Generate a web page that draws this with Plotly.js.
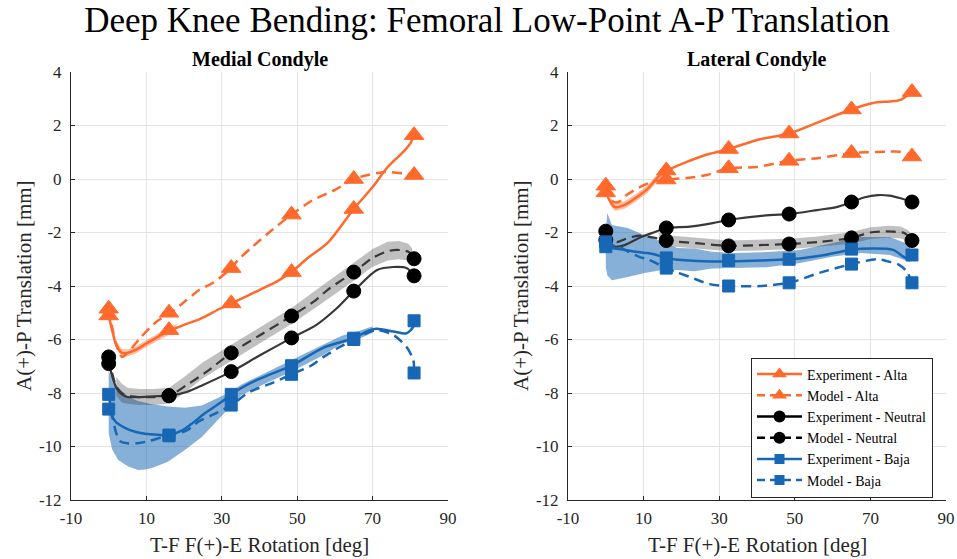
<!DOCTYPE html>
<html>
<head>
<meta charset="utf-8">
<script src="https://cdn.plot.ly/plotly-3.0.1.min.js"></script>
<style>html,body{margin:0;padding:0;background:#fff;}#chart{width:957px;height:559px;}</style>
</head>
<body>
<div id="chart"></div>
<script>
// ---------- Data ----------
const xTickVals = [-10, 10, 30, 50, 70, 90];
const xTickText = ['-10', '10', '30', '50', '70', '90'];
const yTickVals = [-12, -10, -8, -6, -4, -2, 0, 2, 4];
const yTickText = ['-12', '-10', '-8', '-6', '-4', '-2', '0', '2', '4'];

const seriesNames = ['Experiment - Alta', 'Model - Alta', 'Experiment - Neutral', 'Model - Neutral', 'Experiment - Baja', 'Model - Baja'];
const markerX = [0, 16, 32.5, 48.5, 65, 81];

// ----- Medial condyle -----
const medExpAltaPts = [-5.1, -5.65, -4.65, -3.48, -1.12, 1.64];
const medModAltaPts = [-4.85, -5.0, -3.33, -1.33, 0.0, 0.15];
const medExpNeuPts = [-6.9, -8.1, -7.2, -5.94, -4.19, -3.62];
const medModNeuPts = [-6.65, -8.1, -6.5, -5.12, -3.48, -2.98];
const medExpBajaPts = [-8.6, -9.57, -8.05, -6.98, -5.95, -5.3];
const medModBajaPts = [-8.05, -9.6, -8.45, -7.3, -6.0, -7.25];

const medExpAltaX = [0, 1, 2, 3.5, 5, 7, 10, 13, 16, 20, 24.3, 29.5, 32.5, 40, 45, 48.5, 52.8, 58, 65, 70, 74, 78.6, 80, 81];
const medExpAltaY = [-5.1, -5.7, -6.2, -6.5, -6.5, -6.4, -6.15, -5.9, -5.68, -5.45, -5.23, -4.85, -4.65, -4.15, -3.8, -3.48, -2.95, -2.4, -1.12, -0.3, 0.45, 1.08, 1.33, 1.64];
const medModAltaX = [0, 1, 2, 3.5, 5, 8, 11, 13, 16, 20, 24, 28, 32.5, 34.3, 38, 43.4, 48.5, 54, 60, 65, 68.8, 73.3, 78.6, 81];
const medModAltaY = [-4.85, -5.6, -6.2, -6.65, -6.5, -6.0, -5.55, -5.3, -5.05, -4.6, -4.15, -3.85, -3.33, -3.03, -2.55, -1.9, -1.33, -0.8, -0.41, 0.0, 0.15, 0.26, 0.2, 0.15];
const medExpNeuX = [0, 1, 2, 3.5, 5, 8, 12, 16, 20.7, 25, 32.5, 40, 48.5, 55, 60.5, 65, 71.2, 75.5, 79, 81];
const medExpNeuY = [-6.9, -7.4, -7.8, -8.05, -8.15, -8.15, -8.12, -8.1, -7.96, -7.7, -7.2, -6.6, -5.94, -5.46, -4.83, -4.19, -3.4, -3.29, -3.33, -3.62];
const medModNeuX = [0, 1, 2, 3.5, 5, 8, 12, 16, 20.7, 26, 32.5, 40, 48.5, 55, 58, 65, 70, 74, 76.5, 79.5, 81];
const medModNeuY = [-6.65, -7.3, -7.75, -8.0, -8.1, -8.15, -8.15, -8.1, -7.7, -7.2, -6.5, -5.85, -5.12, -4.52, -4.15, -3.48, -2.95, -2.7, -2.65, -2.72, -2.98];
const medExpBajaX = [0, 1, 2, 4.3, 7, 9.6, 13, 16, 19.5, 22, 25.6, 30, 32.5, 37.5, 42, 48.5, 57, 65, 68.5, 71, 75.5, 79, 80.8, 81];
const medExpBajaY = [-8.6, -8.9, -9.1, -9.3, -9.45, -9.52, -9.56, -9.57, -9.4, -9.15, -8.75, -8.33, -8.05, -7.63, -7.35, -6.98, -6.3, -5.95, -5.7, -5.6, -5.7, -5.77, -5.52, -5.3];
const medModBajaX = [0, 1, 2, 3, 5, 8, 11, 14, 16, 20.7, 24, 27.8, 32.5, 37.5, 43.3, 48.5, 53.4, 57, 61, 65, 71, 75.5, 79, 80.8, 81];
const medModBajaY = [-8.05, -8.9, -9.5, -9.8, -9.88, -9.87, -9.78, -9.66, -9.6, -9.4, -9.05, -8.8, -8.45, -7.95, -7.63, -7.3, -7.0, -6.65, -6.3, -6.0, -5.65, -5.83, -6.28, -6.77, -7.25];

const medAltaBandX = [2, 3.5, 5, 7, 10, 13, 16, 18];
const medAltaBandHi = [-6.05, -6.35, -6.37, -6.27, -6.02, -5.77, -5.55, -5.42];
const medAltaBandLo = [-6.33, -6.63, -6.63, -6.53, -6.28, -6.03, -5.81, -5.68];
const medNeuBandX = [2, 3.5, 5, 8, 12, 16, 20, 25, 32.5, 40, 48.5, 56, 65, 70, 74, 77, 79.5, 80.5];
const medNeuBandHi = [-7.4, -7.65, -7.8, -7.85, -7.85, -7.8, -7.4, -6.85, -6.2, -5.55, -4.82, -4.05, -3.15, -2.62, -2.35, -2.32, -2.42, -2.6];
const medNeuBandLo = [-8.1, -8.35, -8.4, -8.45, -8.45, -8.4, -8.0, -7.45, -6.8, -6.15, -5.42, -4.7, -3.8, -3.28, -3.05, -3.0, -3.05, -3.2];
const medBajaBandX = [0, 0.9, 1.7, 2.5, 5.2, 7.8, 9.6, 11.5, 15.7, 20.2, 24.7, 28.2, 31.7, 35, 40, 48.5, 56, 62, 66, 70];
const medBajaBandHi = [-7.2, -7.45, -7.63, -7.8, -8.15, -8.3, -8.37, -8.42, -8.5, -8.55, -8.47, -8.25, -8.0, -7.7, -7.35, -6.78, -6.25, -5.85, -5.7, -5.5];
const medBajaBandLo = [-9.5, -10.1, -10.3, -10.5, -10.75, -10.88, -10.86, -10.8, -10.57, -10.13, -9.64, -9.12, -8.6, -8.1, -7.75, -7.2, -6.65, -6.15, -6.0, -5.75];

// ----- Lateral condyle -----
const latExpAltaPts = [-0.5, 0.32, 1.12, 1.7, 2.6, 3.25];
const latModAltaPts = [-0.25, -0.02, 0.4, 0.68, 0.97, 0.84];
const latExpNeuPts = [-2.28, -1.83, -1.53, -1.31, -0.86, -0.86];
const latModNeuPts = [-1.95, -2.3, -2.5, -2.43, -2.2, -2.3];
const latExpBajaPts = [-2.53, -2.95, -3.05, -3.0, -2.62, -2.84];
const latModBajaPts = [-2.35, -3.33, -4.0, -3.88, -3.18, -3.88];

const latExpAltaX = [0, 1, 2.4, 5, 8, 11, 14, 16, 21.4, 26, 32.5, 40, 48.5, 55.8, 64.5, 70.7, 75, 77.8, 80, 81];
const latExpAltaY = [-0.5, -0.8, -1.05, -0.97, -0.7, -0.38, 0.1, 0.3, 0.64, 0.88, 1.12, 1.46, 1.7, 2.1, 2.58, 2.84, 2.9, 2.95, 3.14, 3.25];
const latModAltaX = [0, 1, 2, 3.5, 5.5, 9, 12, 16, 21.4, 26.7, 32.5, 40, 48.5, 56, 65, 69, 74, 77.8, 80, 81];
const latModAltaY = [-0.25, -0.6, -0.85, -0.85, -0.6, -0.3, -0.12, -0.02, 0.04, 0.15, 0.4, 0.45, 0.68, 0.78, 0.97, 1.0, 1.02, 1.02, 0.93, 0.84];
const latExpNeuX = [0, 1, 2.4, 5, 9.5, 13, 16, 22.2, 28.3, 32.5, 43.4, 48.5, 55.9, 61, 65, 68.5, 72, 75, 78, 81];
const latExpNeuY = [-2.28, -2.45, -2.53, -2.47, -2.16, -1.98, -1.83, -1.78, -1.65, -1.53, -1.35, -1.31, -1.16, -1.05, -0.86, -0.68, -0.6, -0.62, -0.72, -0.86];
const latModNeuX = [0, 1, 2.9, 5, 6.9, 9, 13, 16, 24, 32.5, 40.7, 48.5, 56.6, 65, 69.9, 74, 76, 79, 81];
const latModNeuY = [-1.95, -2.2, -2.36, -2.25, -2.17, -2.12, -2.2, -2.3, -2.4, -2.5, -2.47, -2.43, -2.35, -2.2, -2.0, -1.96, -1.97, -2.02, -2.3];
const latExpBajaX = [0, 1, 2.4, 5, 8, 11, 13, 16, 22, 28, 32.5, 40.8, 48.5, 51.4, 57.5, 64.6, 70.7, 76, 79.5, 81];
const latExpBajaY = [-2.53, -2.56, -2.6, -2.65, -2.72, -2.77, -2.82, -2.95, -3.05, -3.08, -3.08, -3.05, -3.0, -2.97, -2.85, -2.65, -2.6, -2.65, -2.95, -2.84];
const latModBajaX = [0, 1, 2, 3.7, 6, 9, 11, 13.4, 16, 19, 22.2, 27.5, 32.5, 40.8, 48.5, 56.7, 65, 71.7, 74.4, 77.5, 79.7, 81];
const latModBajaY = [-2.35, -2.42, -2.48, -2.54, -2.72, -2.92, -3.0, -3.15, -3.33, -3.5, -3.66, -3.93, -4.0, -4.0, -3.88, -3.5, -3.18, -3.0, -3.07, -3.2, -3.47, -3.88];

const latAltaBandX = [1, 2.4, 5, 8, 11, 14, 16, 17];
const latAltaBandHi = [-0.66, -0.91, -0.83, -0.56, -0.24, 0.24, 0.44, 0.53];
const latAltaBandLo = [-0.94, -1.19, -1.11, -0.84, -0.52, -0.04, 0.16, 0.27];
const latNeuBandX = [14, 16, 24, 32.5, 40, 48.5, 56, 65, 70, 75, 78, 80, 81];
const latNeuBandHi = [-2.0, -2.1, -2.2, -2.3, -2.27, -2.23, -2.15, -1.98, -1.8, -1.75, -1.78, -1.92, -2.1];
const latNeuBandLo = [-2.4, -2.5, -2.6, -2.7, -2.67, -2.63, -2.55, -2.42, -2.24, -2.19, -2.22, -2.32, -2.5];
const latBajaBandX = [0, 0.4, 1.6, 5.8, 10.3, 14.8, 19, 23.5, 28, 33.7, 42.6, 51.4, 60.2, 67.3, 75.2, 80.5];
const latBajaBandHi = [-2.0, -1.27, -1.72, -1.83, -2.1, -2.35, -2.58, -2.6, -2.72, -2.77, -2.73, -2.65, -2.4, -2.17, -2.17, -2.47];
const latBajaBandLo = [-3.3, -3.6, -3.78, -3.66, -3.51, -3.4, -3.4, -3.45, -3.35, -3.33, -3.3, -3.14, -2.9, -2.77, -2.84, -3.1];

// ---------- Styles ----------
const ORANGE = '#FF6A2C';
const BLACK = '#000000';
const DARK = '#383838';
const BLUE = '#1767B5';
const FONT = 'Liberation Serif';
const DASH = '10px,6px';

function band(x, hi, lo, color, xa, ya) {
  return {
    x: x.concat(x.slice().reverse()),
    y: hi.concat(lo.slice().reverse()),
    xaxis: xa, yaxis: ya, type: 'scatter', mode: 'lines', fill: 'toself',
    fillcolor: color, line: {width: 0, color: 'rgba(0,0,0,0)'},
    hoverinfo: 'skip', showlegend: false
  };
}
function curve(x, y, color, dash, width, xa, ya) {
  return {
    x: x, y: y, xaxis: xa, yaxis: ya, type: 'scatter', mode: 'lines',
    line: {color: color, width: width, dash: dash, shape: 'spline', smoothing: 0.8},
    showlegend: false, hoverinfo: 'skip'
  };
}
function marks(y, color, symbol, size, xa, ya) {
  return {
    x: markerX, y: y, xaxis: xa, yaxis: ya, type: 'scatter', mode: 'markers',
    marker: {color: color, symbol: symbol, size: size, line: {color: color, width: 1}},
    showlegend: false, hoverinfo: 'skip'
  };
}

const traces = [];
function panel(xa, ya, d) {
  traces.push(band(d.bajaBand[0], d.bajaBand[1], d.bajaBand[2], 'rgba(23,103,181,0.52)', xa, ya));
  traces.push(band(d.neuBand[0], d.neuBand[1], d.neuBand[2], 'rgba(60,60,60,0.32)', xa, ya));
  traces.push(band(d.altaBand[0], d.altaBand[1], d.altaBand[2], 'rgba(255,106,44,0.45)', xa, ya));
  traces.push(curve(d.ea[0], d.ea[1], ORANGE, 'solid', 2.5, xa, ya));
  traces.push(curve(d.ma[0], d.ma[1], ORANGE, DASH, 2.5, xa, ya));
  traces.push(curve(d.en[0], d.en[1], DARK, 'solid', 2.2, xa, ya));
  traces.push(curve(d.mn[0], d.mn[1], DARK, DASH, 2.2, xa, ya));
  traces.push(curve(d.eb[0], d.eb[1], BLUE, 'solid', 2.5, xa, ya));
  traces.push(curve(d.mb[0], d.mb[1], BLUE, DASH, 2.5, xa, ya));
  traces.push(marks(d.pts[0], ORANGE, 'triangle-up', 17, xa, ya));
  traces.push(marks(d.pts[1], ORANGE, 'triangle-up', 17, xa, ya));
  traces.push(marks(d.pts[2], BLACK, 'circle', 14, xa, ya));
  traces.push(marks(d.pts[3], BLACK, 'circle', 14, xa, ya));
  traces.push(marks(d.pts[4], BLUE, 'square', 12, xa, ya));
  traces.push(marks(d.pts[5], BLUE, 'square', 12, xa, ya));
}
panel('x', 'y', {
  bajaBand: [medBajaBandX, medBajaBandHi, medBajaBandLo],
  neuBand: [medNeuBandX, medNeuBandHi, medNeuBandLo],
  altaBand: [medAltaBandX, medAltaBandHi, medAltaBandLo],
  ea: [medExpAltaX, medExpAltaY], ma: [medModAltaX, medModAltaY],
  en: [medExpNeuX, medExpNeuY], mn: [medModNeuX, medModNeuY],
  eb: [medExpBajaX, medExpBajaY], mb: [medModBajaX, medModBajaY],
  pts: [medExpAltaPts, medModAltaPts, medExpNeuPts, medModNeuPts, medExpBajaPts, medModBajaPts]
});
panel('x2', 'y2', {
  bajaBand: [latBajaBandX, latBajaBandHi, latBajaBandLo],
  neuBand: [latNeuBandX, latNeuBandHi, latNeuBandLo],
  altaBand: [latAltaBandX, latAltaBandHi, latAltaBandLo],
  ea: [latExpAltaX, latExpAltaY], ma: [latModAltaX, latModAltaY],
  en: [latExpNeuX, latExpNeuY], mn: [latModNeuX, latModNeuY],
  eb: [latExpBajaX, latExpBajaY], mb: [latModBajaX, latModBajaY],
  pts: [latExpAltaPts, latModAltaPts, latExpNeuPts, latModNeuPts, latExpBajaPts, latModBajaPts]
});

// legend-only entries
const legColors = [ORANGE, ORANGE, BLACK, BLACK, BLUE, BLUE];
const legSymbols = ['triangle-up', 'triangle-up', 'circle', 'circle', 'square', 'square'];
const legSizes = [13, 13, 12, 12, 10, 10];
seriesNames.forEach((nm, i) => {
  traces.push({
    x: [null], y: [null], xaxis: 'x2', yaxis: 'y2', type: 'scatter', mode: 'lines+markers',
    name: nm, showlegend: true,
    line: {color: legColors[i], width: 2.5, dash: i % 2 ? '8px,5px' : 'solid'},
    marker: {color: legColors[i], symbol: legSymbols[i], size: legSizes[i]}
  });
});

function xAxis(domain, anchor) {
  return {
    domain: domain, anchor: anchor, range: [-10, 90], tickmode: 'array', tickvals: xTickVals, ticktext: xTickText,
    showgrid: true, gridcolor: '#e3e3e3', gridwidth: 1, zeroline: false,
    showline: true, linecolor: '#262626', linewidth: 1, ticks: 'inside', ticklen: 4, tickcolor: '#262626',
    ticklabelstandoff: 3,
    tickfont: {family: FONT, size: 17, color: '#262626'}, fixedrange: true
  };
}
function yAxis(anchor) {
  return {
    domain: [0.1055, 0.8712], anchor: anchor, range: [-12, 4], tickmode: 'array', tickvals: yTickVals, ticktext: yTickText,
    showgrid: true, gridcolor: '#e3e3e3', gridwidth: 1, zeroline: false,
    showline: true, linecolor: '#262626', linewidth: 1, ticks: 'inside', ticklen: 4, tickcolor: '#262626',
    ticklabelstandoff: 5,
    tickfont: {family: FONT, size: 17, color: '#262626'}, fixedrange: true
  };
}

const axisTitleX = 'T-F F(+)-E Rotation [deg]';
const axisTitleY = 'A(+)-P Translation [mm]';
const panelTitles = ['Medial Condyle', 'Lateral Condyle'];

const layout = {
  width: 957, height: 559,
  margin: {l: 0, r: 0, t: 0, b: 0},
  paper_bgcolor: '#ffffff', plot_bgcolor: '#ffffff',
  font: {family: FONT, color: '#262626'},
  title: {text: 'Deep Knee Bending: Femoral Low-Point A-P Translation', font: {family: FONT, size: 35, color: '#000'},
          x: 487 / 957, xanchor: 'center', y: 1 - 20 / 559, yanchor: 'middle', yref: 'container'},
  xaxis: xAxis([71 / 957, 448 / 957], 'y'),
  yaxis: yAxis('x'),
  xaxis2: xAxis([568 / 957, 946 / 957], 'y2'),
  yaxis2: yAxis('x2'),
  showlegend: true,
  legend: {x: 933 / 957, xanchor: 'right', y: 1 - 427.5 / 559, yanchor: 'middle', bgcolor: '#ffffff',
           bordercolor: '#262626', borderwidth: 1, font: {family: FONT, size: 14, color: '#000'},
           tracegroupgap: 0, itemwidth: 45, traceorder: 'normal'},
  annotations: [
    {text: '<b>' + panelTitles[0] + '</b>', xref: 'paper', yref: 'paper', x: 259.5 / 957, y: 1 - 59 / 559, xanchor: 'center', yanchor: 'middle', showarrow: false, font: {family: FONT, size: 20, color: '#000'}},
    {text: '<b>' + panelTitles[1] + '</b>', xref: 'paper', yref: 'paper', x: 757 / 957, y: 1 - 59 / 559, xanchor: 'center', yanchor: 'middle', showarrow: false, font: {family: FONT, size: 20, color: '#000'}},
    {text: axisTitleX, xref: 'paper', yref: 'paper', x: 259.5 / 957, y: 1 - 545 / 559, xanchor: 'center', yanchor: 'middle', showarrow: false, font: {family: FONT, size: 21, color: '#262626'}},
    {text: axisTitleX, xref: 'paper', yref: 'paper', x: 757 / 957, y: 1 - 545 / 559, xanchor: 'center', yanchor: 'middle', showarrow: false, font: {family: FONT, size: 21, color: '#262626'}},
    {text: axisTitleY, xref: 'paper', yref: 'paper', x: 24 / 957, y: 1 - 286 / 559, xanchor: 'center', yanchor: 'middle', textangle: -90, showarrow: false, font: {family: FONT, size: 21, color: '#262626'}},
    {text: axisTitleY, xref: 'paper', yref: 'paper', x: 521 / 957, y: 1 - 286 / 559, xanchor: 'center', yanchor: 'middle', textangle: -90, showarrow: false, font: {family: FONT, size: 21, color: '#262626'}}
  ]
};

Plotly.newPlot('chart', traces, layout, {displayModeBar: false, staticPlot: true});
</script>
</body>
</html>
